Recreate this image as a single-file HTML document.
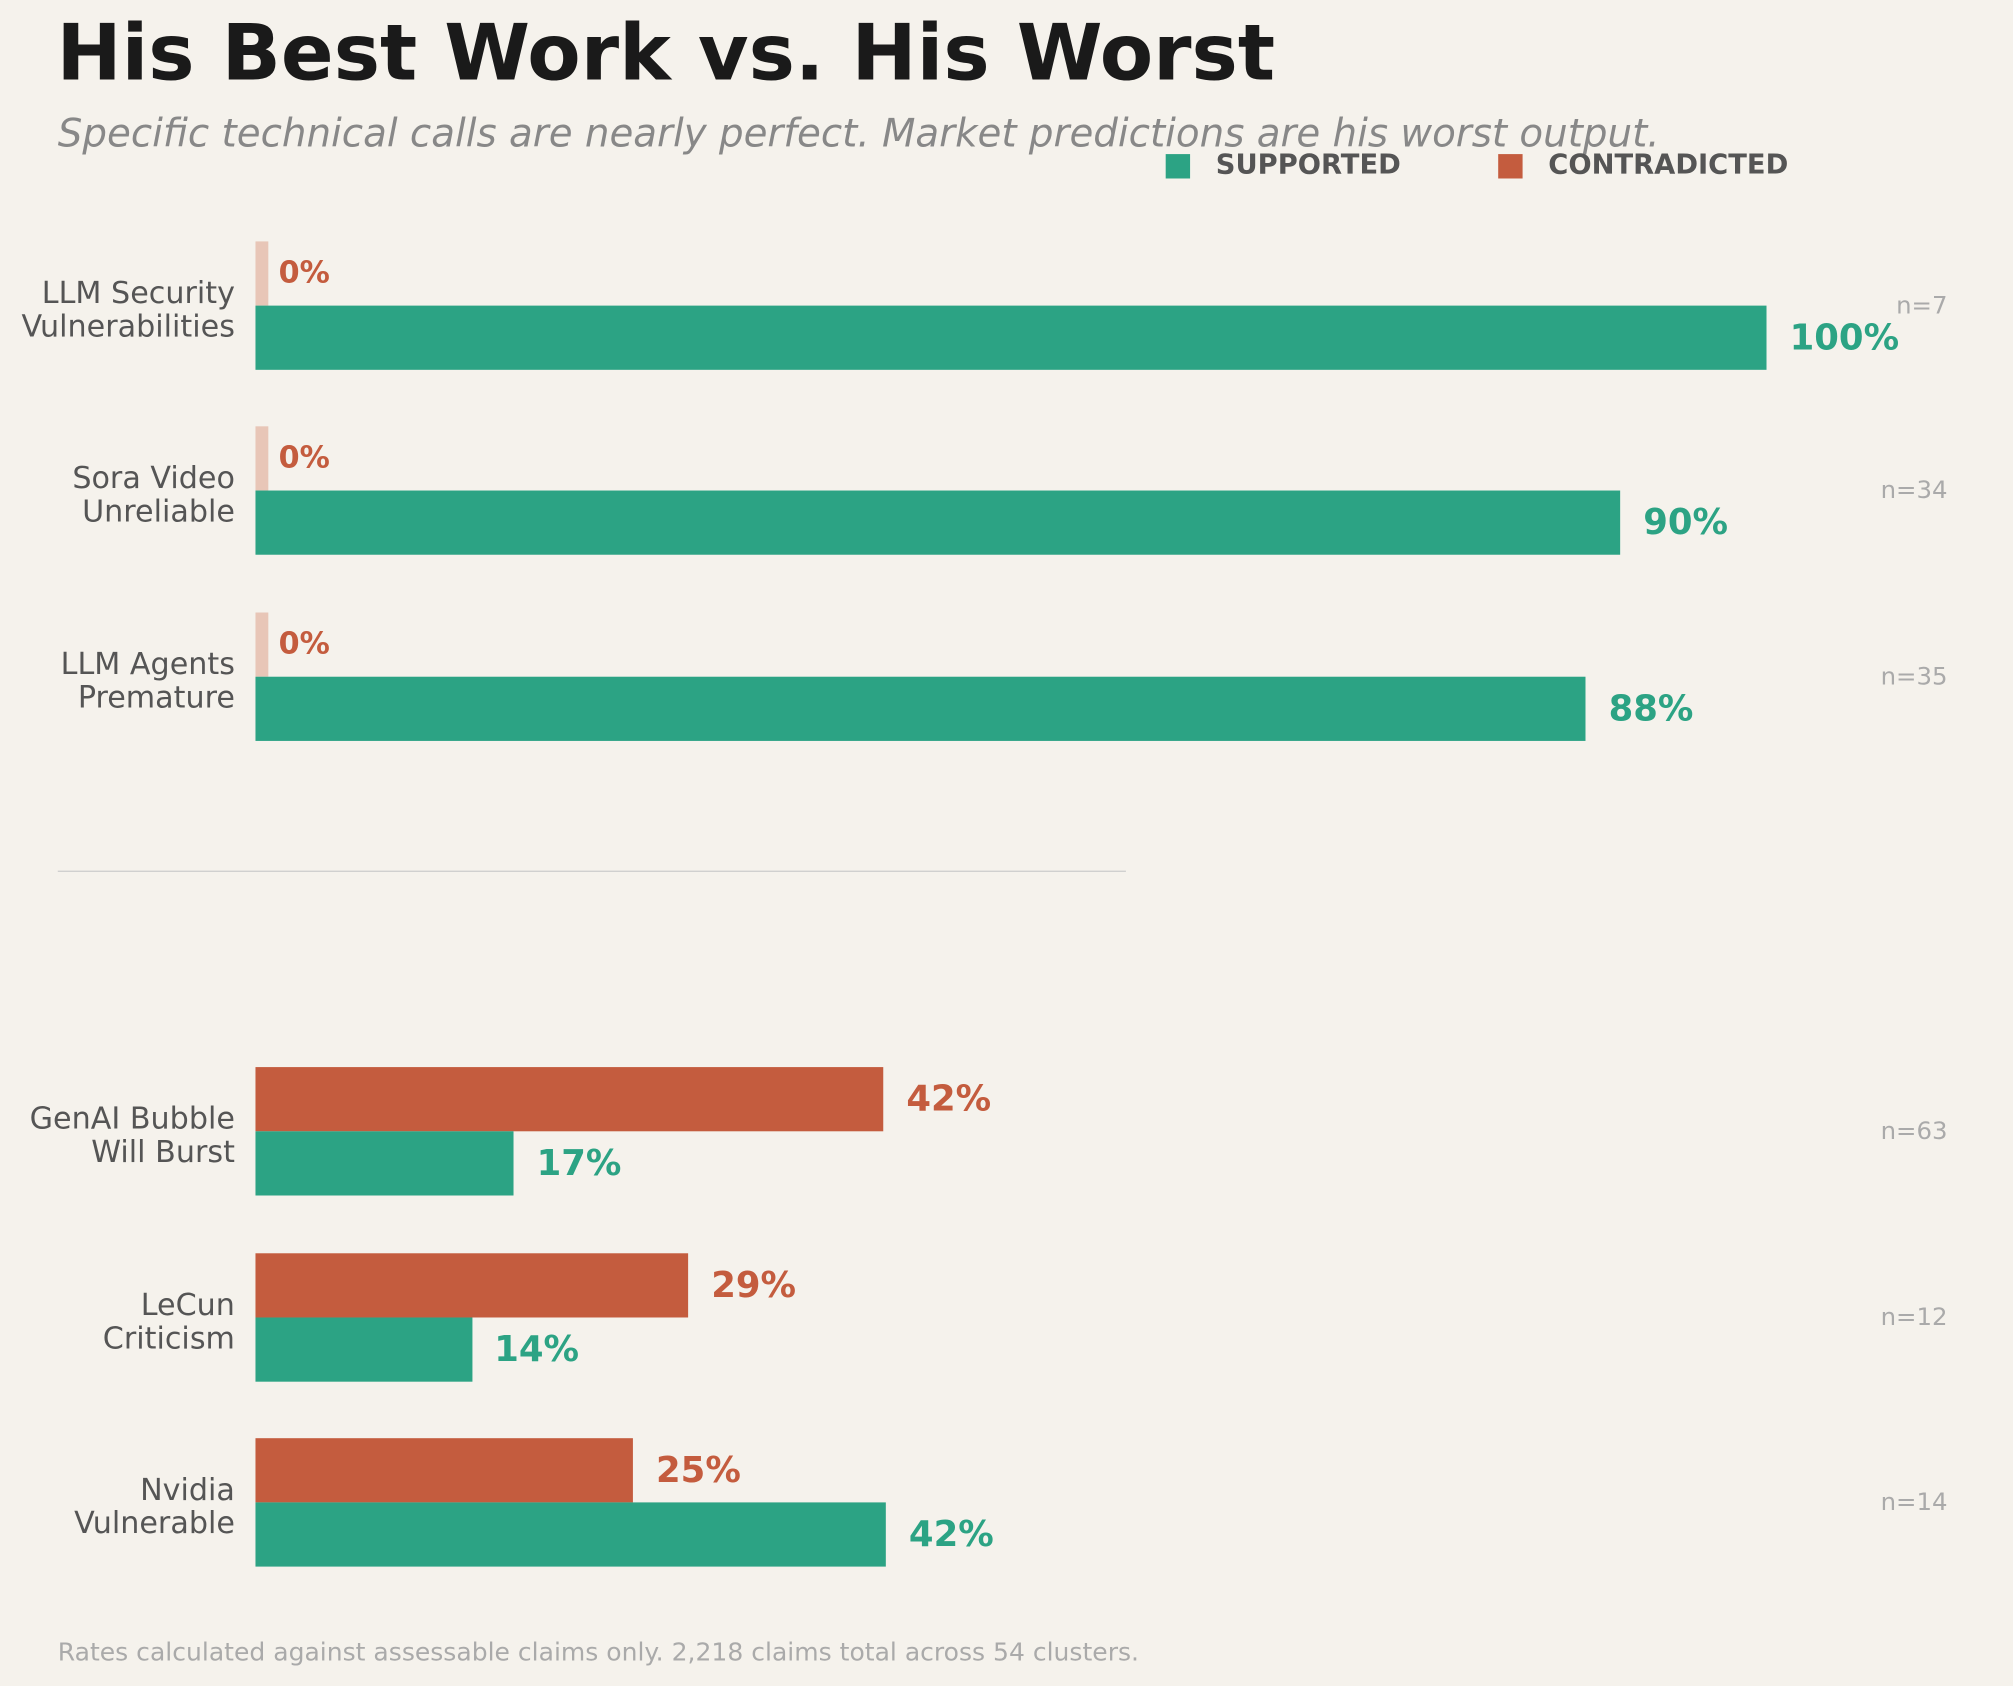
<!DOCTYPE html>
<html><head><meta charset="utf-8"><style>
html,body{margin:0;padding:0;background:#f5f2ec;}
body{width:2013px;height:1686px;overflow:hidden;}
#w{position:absolute;left:0;top:0;width:1568px;height:1313px;transform:scale(1.2838,1.2841);transform-origin:0 0;font-family:"DejaVu Sans","Liberation Sans",sans-serif;}
.a{position:absolute;white-space:nowrap;}
.bar{position:absolute;}
.t{background:#2ca384;}
.o{background:#c45c3e;}
.p{background:#e8c6b7;}
.cat{position:absolute;right:1385px;text-align:right;font-size:23.5px;line-height:26px;color:#555;white-space:nowrap;}
.v{position:absolute;font-weight:bold;font-size:27.6px;line-height:30px;}
.vt{color:#2ca384}.vo{color:#c45c3e}
.z{position:absolute;font-weight:bold;font-size:23.5px;line-height:26px;color:#c45c3e;left:217px;}
.n{position:absolute;right:51px;font-size:19px;line-height:22px;color:#aaa;}
</style></head><body><div id="w">
<div class="a" style="left:44px;top:6px;font-size:60.6px;font-weight:bold;color:#1a1a1a;line-height:72px;">His Best Work vs. His Worst</div>
<div class="a" style="left:45px;top:86px;font-size:30.2px;font-style:italic;color:#888;line-height:38px;">Specific technical calls are nearly perfect. Market predictions are his worst output.</div>
<div class="bar t" style="left:908px;top:120px;width:19px;height:19px"></div>
<div class="a" style="left:947px;top:117px;font-size:21.3px;font-weight:bold;color:#555;line-height:24px;">SUPPORTED</div>
<div class="bar o" style="left:1167px;top:120px;width:19px;height:19px"></div>
<div class="a" style="left:1206px;top:117px;font-size:21.3px;font-weight:bold;color:#555;line-height:24px;">CONTRADICTED</div>

<div class="bar p" style="left:199px;top:188px;width:10px;height:50px"></div>
<div class="bar t" style="left:199px;top:238px;width:1177px;height:50px"></div>
<div class="z" style="top:199px">0%</div>
<div class="v vt" style="left:1394px;top:248px">100%</div>
<div class="cat" style="top:215px">LLM Security<br>Vulnerabilities</div>
<div class="n" style="top:227px">n=7</div>

<div class="bar p" style="left:199px;top:332px;width:10px;height:50px"></div>
<div class="bar t" style="left:199px;top:382px;width:1063px;height:50px"></div>
<div class="z" style="top:343px">0%</div>
<div class="v vt" style="left:1280px;top:392px">90%</div>
<div class="cat" style="top:359px">Sora Video<br>Unreliable</div>
<div class="n" style="top:371px">n=34</div>

<div class="bar p" style="left:199px;top:477px;width:10px;height:50px"></div>
<div class="bar t" style="left:199px;top:527px;width:1036px;height:50px"></div>
<div class="z" style="top:488px">0%</div>
<div class="v vt" style="left:1253px;top:537px">88%</div>
<div class="cat" style="top:504px">LLM Agents<br>Premature</div>
<div class="n" style="top:516px">n=35</div>

<div class="bar" style="left:45px;top:678px;width:832px;height:1px;background:#ccc"></div>

<div class="bar o" style="left:199px;top:831px;width:489px;height:50px"></div>
<div class="bar t" style="left:199px;top:881px;width:201px;height:50px"></div>
<div class="v vo" style="left:706px;top:841px">42%</div>
<div class="v vt" style="left:418px;top:891px">17%</div>
<div class="cat" style="top:858px">GenAI Bubble<br>Will Burst</div>
<div class="n" style="top:870px">n=63</div>

<div class="bar o" style="left:199px;top:976px;width:337px;height:50px"></div>
<div class="bar t" style="left:199px;top:1026px;width:169px;height:50px"></div>
<div class="v vo" style="left:554px;top:986px">29%</div>
<div class="v vt" style="left:385px;top:1036px">14%</div>
<div class="cat" style="top:1003px">LeCun<br>Criticism</div>
<div class="n" style="top:1015px">n=12</div>

<div class="bar o" style="left:199px;top:1120px;width:294px;height:50px"></div>
<div class="bar t" style="left:199px;top:1170px;width:491px;height:50px"></div>
<div class="v vo" style="left:511px;top:1130px">25%</div>
<div class="v vt" style="left:708px;top:1180px">42%</div>
<div class="cat" style="top:1147px">Nvidia<br>Vulnerable</div>
<div class="n" style="top:1159px">n=14</div>

<div class="a" style="left:45px;top:1275px;font-size:19.5px;color:#aaa;line-height:23px;">Rates calculated against assessable claims only. 2,218 claims total across 54 clusters.</div>
</div></body></html>
